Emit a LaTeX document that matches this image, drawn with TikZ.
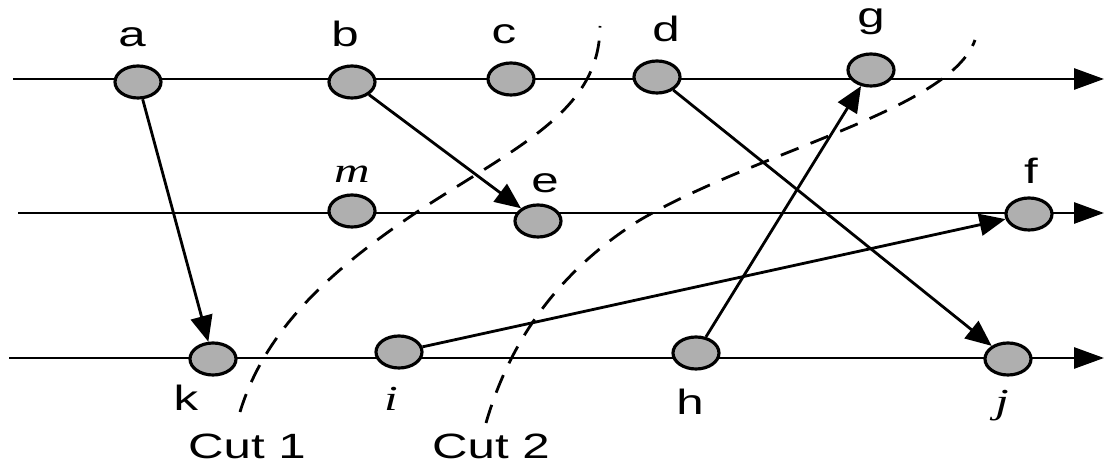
\documentclass[tikz,border=0pt]{standalone}
\usepackage{fontspec}
\setmainfont{Liberation Sans}[FakeStretch=1.4]
\newfontfamily\itfont{Liberation Serif}[FakeStretch=1.4]
\usetikzlibrary{arrows.meta,positioning,shapes.geometric}
\definecolor{evgray}{HTML}{AFAFAF}

\begin{document}
\begin{tikzpicture}[
  x=0.2mm, y=-0.2mm,
  node distance=3.5mm,
  ev/.style={
    ellipse, draw=black, line width=1.8pt, fill=evgray,
    minimum width=9.2mm, minimum height=6.4mm, inner sep=0pt
  },
  lbl/.style={font=\fontsize{20}{22}\selectfont, inner sep=0pt},
  ilbl/.style={lbl, font=\fontsize{20}{22}\selectfont\itfont\itshape},
  proc/.style={-{Triangle[length=6mm, width=4.2mm]}, line width=1.6pt},
  msg/.style={-{Triangle[length=5.2mm, width=4.4mm]}, line width=1.6pt},
  cut/.style={line width=1.6pt, dash pattern=on 3.8mm off 2.6mm},
]
  \useasboundingbox (0,0) rectangle (1105,463);

  % Ejes de los procesos
  \coordinate (p1s) at (13,79);  \coordinate (p1e) at (1104,79);
  \coordinate (p2s) at (18,213); \coordinate (p2e) at (1104,213);
  \coordinate (p3s) at (9,358);  \coordinate (p3e) at (1104,358);
  \draw[proc] (p1s) -- (p1e);
  \draw[proc] (p2s) -- (p2e);
  \draw[proc] (p3s) -- (p3e);

  % Eventos del proceso superior
  \node[ev] (a) at (138,82) {};
  \node[ev] (b) at (352,82) {};
  \node[ev] (c) at (511,79) {};
  \node[ev] (d) at (657,77) {};
  \node[ev] (g) at (871,70) {};

  % Eventos del proceso central
  \node[ev] (m) at (352,211) {};
  \node[ev] (e) at (538,221) {};
  \node[ev] (f) at (1029,214) {};

  % Eventos del proceso inferior
  \node[ev] (k) at (213,359) {};
  \node[ev] (i) at (399,352) {};
  \node[ev] (h) at (696,353) {};
  \node[ev] (j) at (1008,359) {};

  % Etiquetas
  \node[lbl, above=of a, xshift=-1.2mm] (la) {a};
  \node[lbl, above=of b, xshift=-1.4mm] (lb) {b};
  \node[lbl, above=of c, xshift=-1.4mm] (lc) {c};
  \node[lbl, above=of d, xshift=1.8mm]  (ld) {d};
  \node[lbl, above=of g]                (lg) {g};
  \node[ilbl, above=2.2mm of m]              (lm) {m};
  \node[lbl, above=2mm of e, xshift=1.4mm]   (le) {e};
  \node[lbl, above=2.6mm of f, xshift=0.4mm] (lf) {f};
  \node[lbl, below=1.6mm of k, xshift=-5.4mm]  (lk) {k};
  \node[ilbl, below=3.4mm of i, xshift=-1.6mm] (li) {i};
  \node[lbl, below=3.6mm of h, xshift=-1.2mm]  (lh) {h};
  \node[ilbl, below=2.6mm of j, xshift=-1.2mm] (lj) {j};

  % Mensajes
  \draw[msg] (a) -- (k);
  \draw[msg] (b) -- (e);
  \draw[msg] (d) -- (j);
  \draw[msg] (h) -- (g);
  \draw[msg] (i) -- (f);

  % Cortes
  \coordinate (c1a) at (240,412);
  \coordinate (c1b) at (420,210);
  \coordinate (c1c) at (600,26);
  \draw[cut] (c1a) .. controls (265,330) and (330,270) .. (c1b)
                   .. controls (520,145) and (600,110) .. (c1c);
  \coordinate (c2a) at (486,423);
  \coordinate (c2b) at (640,220);
  \coordinate (c2c) at (975,40);
  \draw[cut] (c2a) .. controls (510,340) and (560,270) .. (c2b)
                   .. controls (760,150) and (950,110) .. (c2c);

  \node[lbl] (cut1) at (247,446) {Cut 1};
  \node[lbl] (cut2) at (491,446) {Cut 2};

\end{tikzpicture}
\end{document}
